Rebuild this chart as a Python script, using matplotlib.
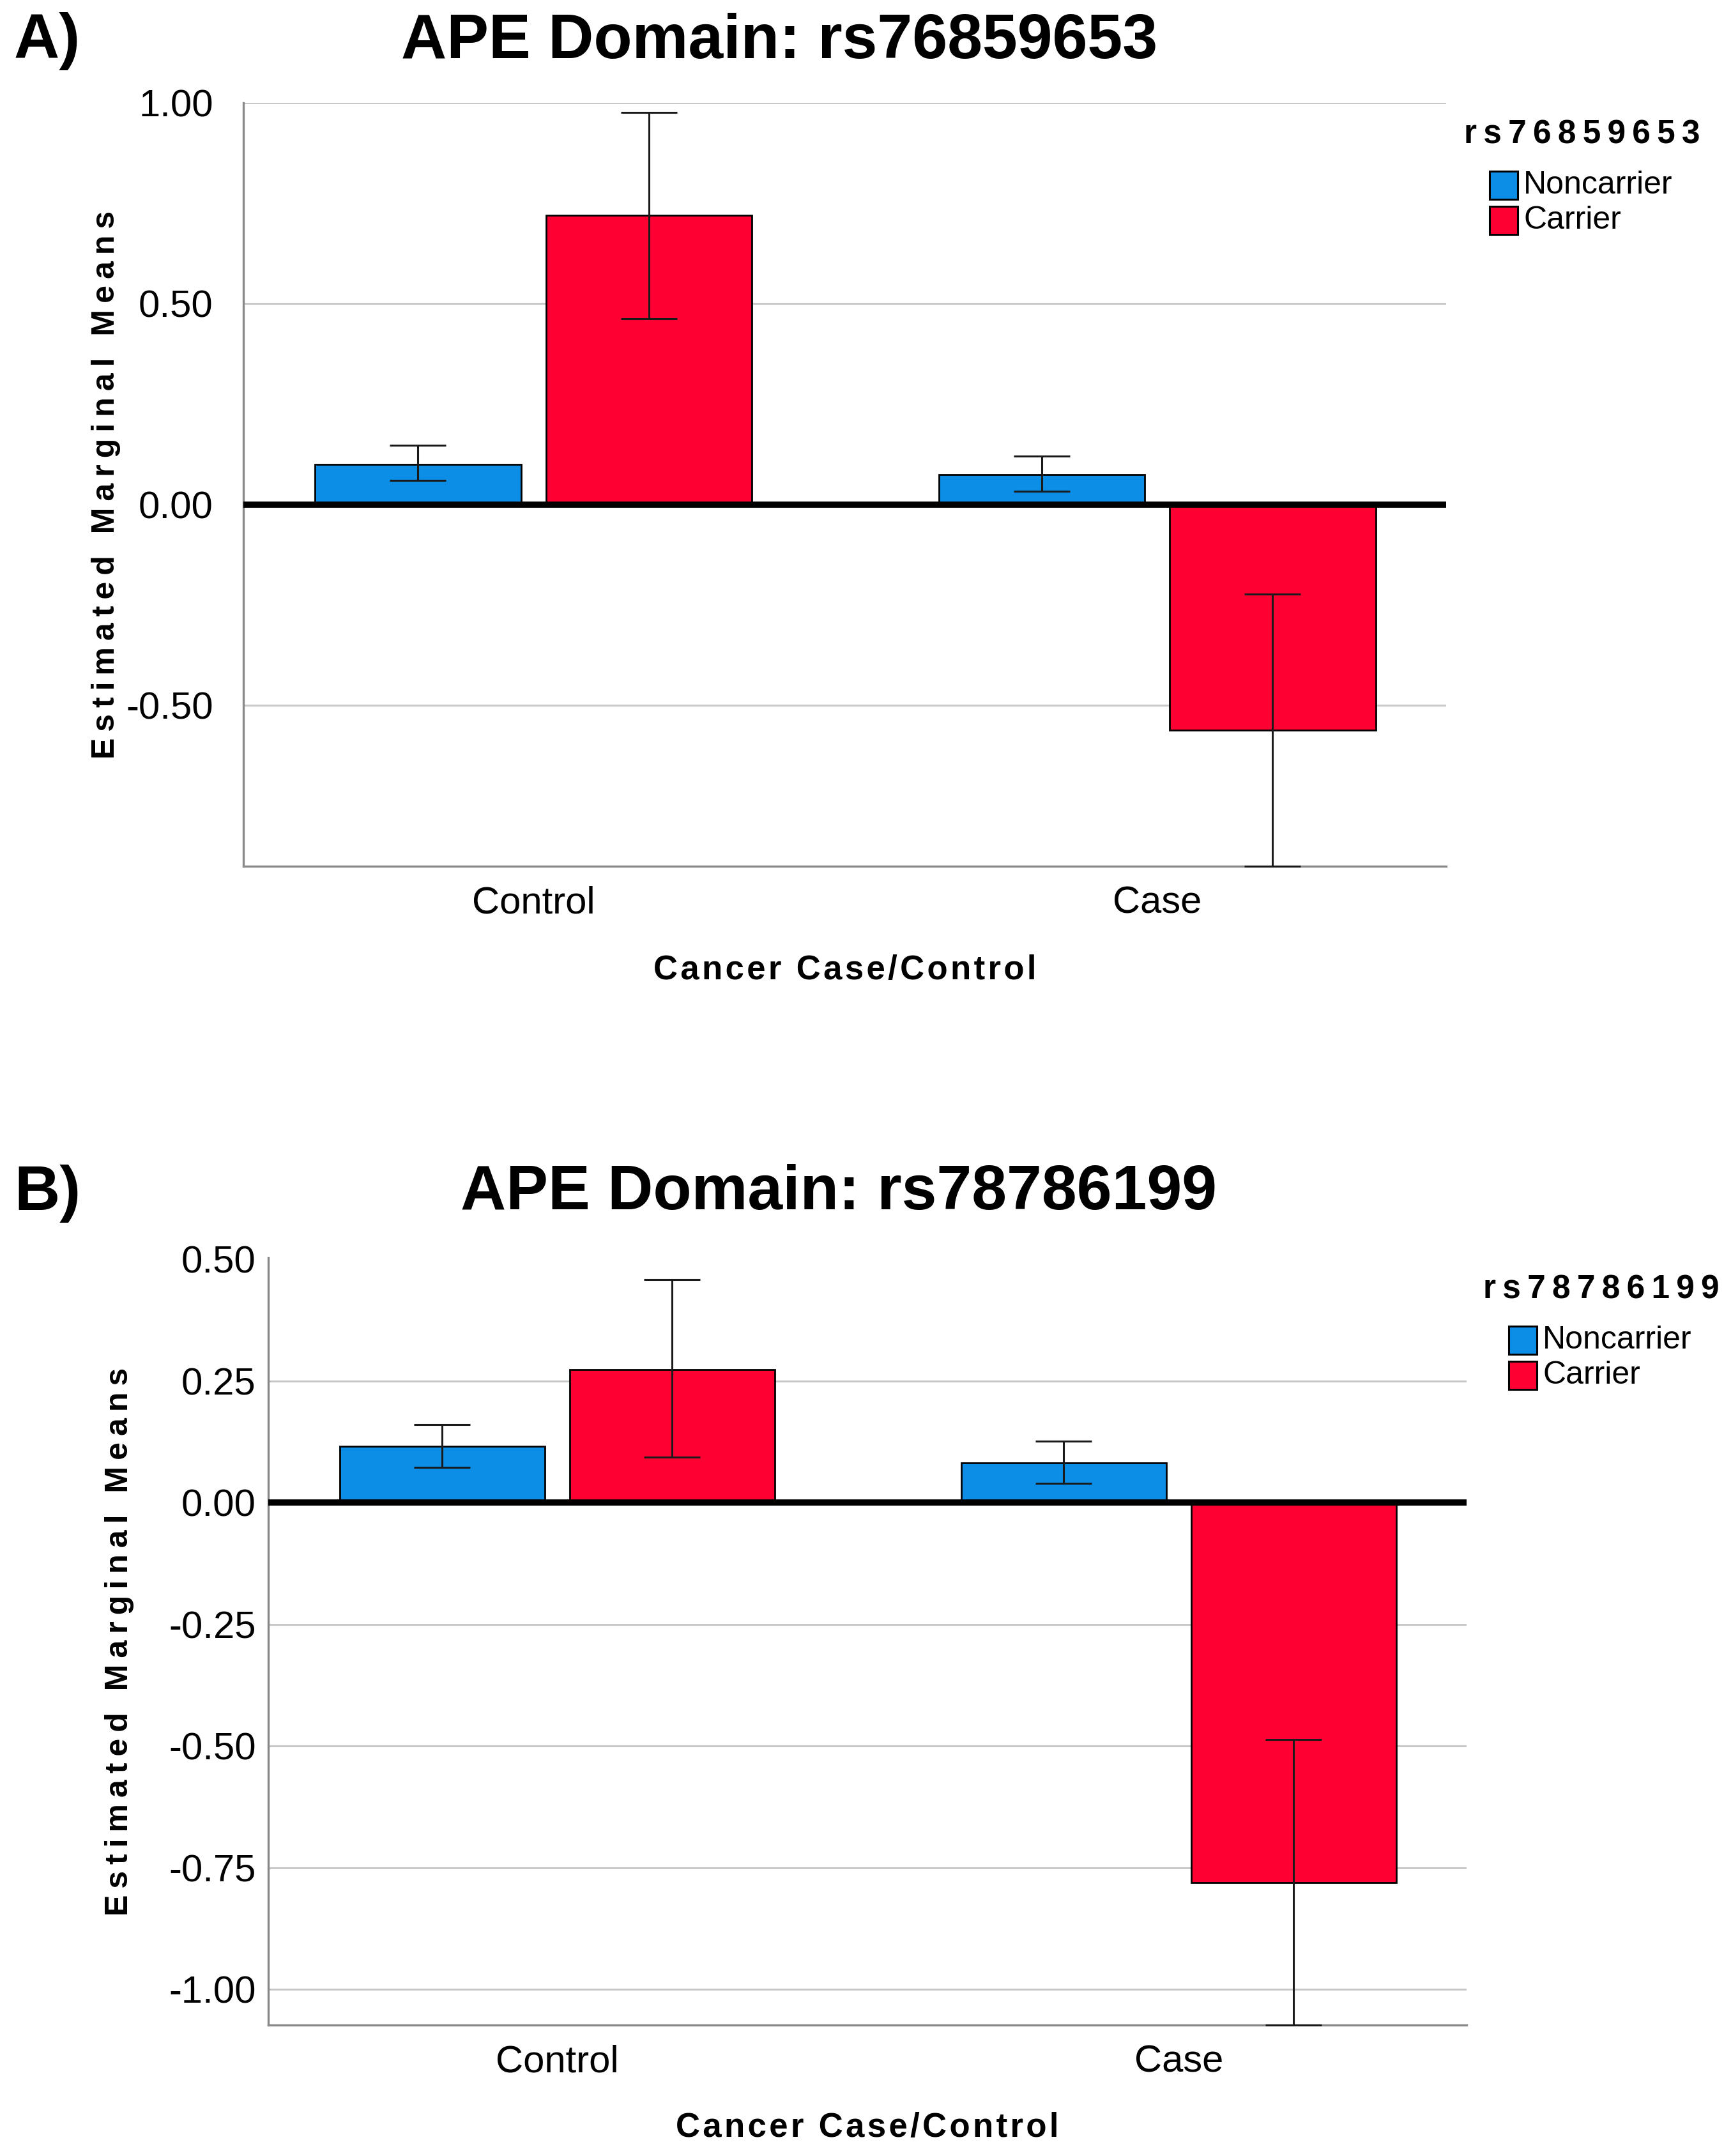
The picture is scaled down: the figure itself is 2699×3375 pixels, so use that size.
import matplotlib
matplotlib.use('Agg')
import matplotlib.pyplot as plt
from matplotlib.patches import Rectangle
import numpy as np

plt.rcParams['font.family'] = ['Liberation Sans', 'DejaVu Sans']

W, H = 2699, 3375

# data
groups = ['Control', 'Case']
legend_labels = ['Noncarrier', 'Carrier']

a_noncarrier = [0.100, 0.075]
a_noncarrier_lo = [0.060, 0.034]
a_noncarrier_hi = [0.147, 0.120]
a_carrier = [0.720, -0.562]
a_carrier_lo = [0.462, -0.900]
a_carrier_hi = [0.976, -0.223]

b_noncarrier = [0.116, 0.082]
b_noncarrier_lo = [0.073, 0.040]
b_noncarrier_hi = [0.161, 0.127]
b_carrier = [0.274, -0.780]
b_carrier_lo = [0.093, -1.073]
b_carrier_hi = [0.458, -0.486]

a_ticks = [1.00, 0.50, 0.00, -0.50]
b_ticks = [0.50, 0.25, 0.00, -0.25, -0.50, -0.75, -1.00]

BLUE = '#0C8EE6'
RED = '#FF0033'


def fx(x):
    return x / W


def fy(y):
    return 1 - y / H


def spaced(s, sep='\u2009'):
    return sep.join(s)


def panel(fig, rect, means, los, his, ticks, grid, ylim, title, letter,
          title_xy, letter_y, ylab_x, xlab_y, leg_title, leg_xy, ytick_pad):
    ax = fig.add_axes(rect)
    x = np.arange(len(groups))
    width = 0.33
    off = 0.185
    colors = [BLUE, RED]
    for i, (m, lo, hi) in enumerate(zip(means, los, his)):
        m = np.array(m)
        err = [m - np.array(lo), np.array(hi) - m]
        pos = x + (i * 2 - 1) * off
        ax.bar(pos, m, width, color=colors[i], edgecolor='black', linewidth=2.0, zorder=2)
        ax.errorbar(pos, m, yerr=err, fmt='none', ecolor='#1a1a1a', elinewidth=2.2,
                    capsize=32, capthick=2.2, zorder=5, clip_on=False)
    for g in grid:
        ax.axhline(g, color='#c9c9c9', linewidth=2.2, zorder=0)
    ax.axhline(0, color='black', linewidth=7, zorder=4)
    ax.set_xlim(-0.465, 1.463)
    ax.set_ylim(*ylim)
    ax.set_yticks(ticks)
    ax.set_yticklabels(['%.2f' % t for t in ticks])
    ax.set_xticks(x)
    ax.set_xticklabels(groups)
    ax.tick_params(axis='both', length=0, labelsize=43, colors='#333333', labelcolor='black')
    ax.tick_params(axis='y', pad=ytick_pad)
    ax.tick_params(axis='x', pad=22)
    for s in ['top', 'right']:
        ax.spines[s].set_visible(False)
    for s in ['left', 'bottom']:
        ax.spines[s].set_color('#888888')
        ax.spines[s].set_linewidth(2.4)

    fig.text(fx(title_xy[0]), fy(title_xy[1]), title, fontsize=71, fontweight='bold',
             ha='center', va='center')
    fig.text(fx(22), fy(letter_y), letter, fontsize=71, fontweight='bold',
             ha='left', va='center')
    fig.text(fx(ylab_x), rect[1] + rect[3] / 2, spaced('Estimated Marginal Means'),
             fontsize=36, fontweight='bold', rotation=90, ha='center', va='center')
    fig.text(rect[0] + rect[2] / 2, fy(xlab_y), spaced('Cancer Case/Control', '\u200a'),
             fontsize=38, fontweight='bold', ha='center', va='center')

    # legend
    lx, ly = leg_xy
    fig.text(fx(lx), fy(ly), spaced(leg_title), fontsize=37, fontweight='bold',
             ha='left', va='center')
    for i, lab in enumerate(legend_labels):
        top = ly + 57 + i * 55
        fig.add_artist(Rectangle((fx(lx + 40), fy(top + 44)), fx(44), 44 / H,
                                 transform=fig.transFigure, facecolor=colors[i],
                                 edgecolor='black', linewidth=2.2))
        fig.text(fx(lx + 93), fy(top + 22), lab, fontsize=36, ha='left', va='center')
    return ax


fig = plt.figure(figsize=(W / 100, H / 100), dpi=100)

panel(fig, [fx(381), fy(1356), fx(2264 - 381), (1356 - 161) / H],
      [a_noncarrier, a_carrier], [a_noncarrier_lo, a_carrier_lo],
      [a_noncarrier_hi, a_carrier_hi], a_ticks, [1.0, 0.5, -0.5],
      (-0.90, 1.0), 'APE Domain: rs76859653', 'A)',
      (1220, 65), 65, 166, 1519, 'rs76859653', (2292, 211), 34)

panel(fig, [fx(420), fy(3170), fx(2296 - 420), (3170 - 1969) / H],
      [b_noncarrier, b_carrier], [b_noncarrier_lo, b_carrier_lo],
      [b_noncarrier_hi, b_carrier_hi], b_ticks, [0.25, -0.25, -0.5, -0.75, -1.0],
      (-1.073, 0.503), 'APE Domain: rs78786199', 'B)',
      (1313, 1868), 1868, 187, 3331, 'rs78786199', (2322, 2019), 14)

fig.savefig('out.png', dpi=100, facecolor='white')
